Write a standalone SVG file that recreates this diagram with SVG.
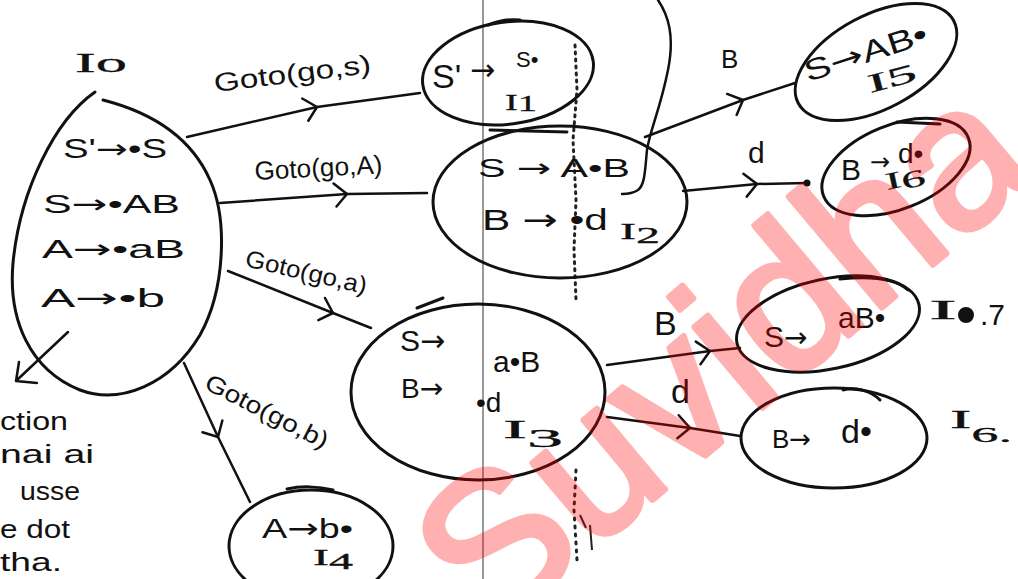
<svg xmlns="http://www.w3.org/2000/svg" width="1018" height="579" viewBox="0 0 1018 579">
<defs>
<style>
.n{fill:none;stroke:#111;stroke-width:3;stroke-linecap:round;stroke-linejoin:round}
.c{fill:none;stroke:#111;stroke-width:2.5;stroke-linecap:round;stroke-linejoin:round}
.t{font-family:"Liberation Sans",Arial,sans-serif;fill:#111}
.a{font-family:"DejaVu Sans",sans-serif}
.s{font-family:"Liberation Serif","Times New Roman",serif;fill:#111;stroke:#111;stroke-width:0.3}
.wm{font-family:"Liberation Sans",Arial,sans-serif;fill:#ff0000;stroke:#ff0000;stroke-width:6;stroke-linejoin:round}
</style>
<marker id="chev" markerUnits="userSpaceOnUse" viewBox="-16 -16 32 32" markerWidth="32" markerHeight="32" refX="0" refY="0" orient="auto">
<path d="M-13,-11 L0,0 L-11,12" fill="none" stroke="#111" stroke-width="2.5" stroke-linecap="round" stroke-linejoin="round"/>
</marker>
</defs>
<rect width="1018" height="579" fill="#fff"/>
<line x1="483" y1="0" x2="483" y2="579" stroke="#333" stroke-width="1"/>
<path d="M575,45 L577,90 L573,140 L576,200 L574,250 L576,300" fill="none" stroke="#222" stroke-width="3" stroke-dasharray="2 5" stroke-linecap="round"/>
<path d="M576,470 L574,510 L577,560" fill="none" stroke="#222" stroke-width="3" stroke-dasharray="2 6" stroke-linecap="round"/>
<path d="M580,515 L586,528 M590,525 L592,550" fill="none" stroke="#222" stroke-width="2"/>
<path d="M658,0 C668,15 675,35 668,70 C660,110 650,130 647,150 C645,170 645,185 638,190 C632,194 627,194 622,194" class="c"/>

<g id="connectors">
<path class="c" d="M187,137 L317,107 L420,93" marker-mid="url(#chev)"/>
<path class="c" d="M220,203 L347,194 L427,193" marker-mid="url(#chev)"/>
<path class="c" d="M228,271 L333,313 L371,328" marker-mid="url(#chev)"/>
<path class="c" d="M184,363 L218,437 L250,502" marker-mid="url(#chev)"/>
<path class="c" d="M645,137 L743,100 L795,83" marker-mid="url(#chev)"/>
<path class="c" d="M683,191 L757,184 L807,183" marker-mid="url(#chev)"/>
<circle cx="807" cy="183" r="3.5" fill="#111"/>
<path class="c" d="M607,365 L710,351 L740,348" marker-mid="url(#chev)"/>
<path class="c" d="M607,417 L690,428 L740,436" marker-mid="url(#chev)"/>
<path class="c" d="M68,332 L17,380 M19,362 L16,381 L37,383"/>
<text class="t" font-size="26" x="215" y="92" textLength="158" lengthAdjust="spacingAndGlyphs" transform="rotate(-7 215 92)">Goto(go,s)</text>
<text class="t" font-size="26" x="255" y="180" textLength="128" lengthAdjust="spacingAndGlyphs" transform="rotate(-3 255 180)">Goto(go,A)</text>
<text class="t" font-size="24" x="244" y="266" textLength="124" lengthAdjust="spacingAndGlyphs" transform="rotate(13 244 266)">Goto(go,a)</text>
<text class="t" font-size="24" x="203" y="388" textLength="135" lengthAdjust="spacingAndGlyphs" transform="rotate(27 203 388)">Goto(go,b)</text>
<text class="t" font-size="26" x="721" y="68">B</text>
<text class="t" font-size="30" x="748" y="163">d</text>
<text class="t" font-size="34" x="654" y="335">B</text>
<text class="t" font-size="34" x="671" y="403">d</text>
</g>

<g id="I0">
<path class="n" d="M95,92 C55,120 20,190 13,263 C8,320 30,370 80,390 C120,405 170,385 200,335 C225,290 228,220 210,180 C190,135 150,112 103,100"/>
<text class="s" x="75" y="72" font-size="28" textLength="52" lengthAdjust="spacingAndGlyphs">Io</text>
<text class="t" font-size="27" x="63" y="158" textLength="104" lengthAdjust="spacingAndGlyphs">S'<tspan class="a">→</tspan>•S</text>
<text class="t" font-size="26" x="43" y="213" textLength="137" lengthAdjust="spacingAndGlyphs">S<tspan class="a">→</tspan>•AB</text>
<text class="t" font-size="26" x="42" y="258" textLength="143" lengthAdjust="spacingAndGlyphs">A<tspan class="a">→</tspan>•aB</text>
<text class="t" font-size="26" x="41" y="307" textLength="124" lengthAdjust="spacingAndGlyphs">A<tspan class="a">→</tspan>•b</text>
</g>

<g id="I1">
<ellipse class="n" cx="508" cy="73" rx="86" ry="51" transform="rotate(-8 508 73)"/>
<path class="n" d="M488,25 C500,20 510,19 520,20"/>
<text class="t" font-size="34" x="432" y="88">S'<tspan class="a" x="470" y="80" font-size="30">→</tspan><tspan x="516" y="67" font-size="22">S•</tspan></text>
<text class="s" font-size="24" x="505" y="110" textLength="32" lengthAdjust="spacingAndGlyphs">I<tspan dy="1">1</tspan></text>
</g>

<g id="I2">
<ellipse class="n" cx="560" cy="202" rx="127" ry="76"/>
<path class="n" d="M490,130 L567,132"/>
<text class="t" font-size="26" x="478" y="177" textLength="152" lengthAdjust="spacingAndGlyphs">S <tspan class="a">→</tspan> A•B</text>
<text class="t" font-size="30" x="482" y="230" textLength="126" lengthAdjust="spacingAndGlyphs">B <tspan class="a">→</tspan> •d</text>
<text class="s" font-size="24" x="620" y="239" textLength="40" lengthAdjust="spacingAndGlyphs">I<tspan dy="4">2</tspan></text>
</g>

<g id="I3">
<ellipse class="n" cx="478" cy="392" rx="127" ry="88"/>
<path class="n" d="M417,308 L443,298"/>
<text class="t" font-size="30" x="400" y="351">S<tspan class="a">→</tspan><tspan x="493" y="372">a•B</tspan></text>
<text class="t" font-size="28" x="401" y="398">B<tspan class="a">→</tspan><tspan x="476" y="412">•d</tspan></text>
<text class="s" font-size="26" x="503" y="438" textLength="60" lengthAdjust="spacingAndGlyphs">I<tspan dy="9">3</tspan></text>
</g>

<g id="I4">
<ellipse class="n" cx="311" cy="546" rx="82" ry="56"/>
<path class="n" d="M287,489 C300,486 318,486 333,490"/>
<text class="t" font-size="28" x="262" y="538" textLength="91" lengthAdjust="spacingAndGlyphs">A<tspan class="a">→</tspan>b•</text>
<text class="s" font-size="24" x="313" y="565" textLength="40" lengthAdjust="spacingAndGlyphs">I<tspan dy="4">4</tspan></text>
</g>

<g id="I5">
<ellipse class="n" cx="876" cy="62" rx="88" ry="47" transform="rotate(-28 876 62)"/>
<text class="t" font-size="30" x="808" y="82" textLength="128" lengthAdjust="spacingAndGlyphs" transform="rotate(-18 808 82)">S<tspan class="a">→</tspan>AB•</text>
<text class="s" font-size="26" x="870" y="93" textLength="50" lengthAdjust="spacingAndGlyphs" transform="rotate(-15 870 93)">I5</text>
</g>

<g id="I6">
<ellipse class="n" cx="896" cy="167" rx="78" ry="42" transform="rotate(-22 896 167)"/>
<path class="n" d="M897,122 L940,124"/>
<text class="t" font-size="30" x="841" y="180">B<tspan class="a" x="870" y="170" font-size="24">→</tspan><tspan x="898" y="163" font-size="28">d•</tspan></text>
<text class="s" font-size="24" x="887" y="190" textLength="40" lengthAdjust="spacingAndGlyphs" transform="rotate(-12 887 190)">I<tspan dy="3">6</tspan></text>
</g>

<g id="I7">
<ellipse class="n" cx="828" cy="324" rx="93" ry="45" transform="rotate(-12 828 324)"/>
<path class="n" d="M840,279 C870,276 895,278 908,290"/>
<text class="t" font-size="30" x="764" y="347">S<tspan class="a" font-size="28">→</tspan><tspan x="838" y="328">aB•</tspan></text>
<text class="s" font-size="28" x="929" y="319" textLength="28" lengthAdjust="spacingAndGlyphs">I</text>
<circle cx="966" cy="315" r="7" fill="#111" stroke="#111" stroke-width="2"/>
<text class="t" font-size="30" x="980" y="325">.7</text>
</g>

<g id="I6b">
<ellipse class="n" cx="834" cy="438" rx="93" ry="50"/>
<path class="n" d="M843,390 C855,387 870,390 880,400"/>
<text class="t" font-size="26" x="772" y="448">B<tspan class="a">→</tspan><tspan x="841" y="443" font-size="34">d•</tspan></text>
<text class="s" font-size="26" x="950" y="428" textLength="62" lengthAdjust="spacingAndGlyphs">I<tspan dy="14" font-size="22">6.</tspan></text>
</g>

<g id="note">
<text class="t" font-size="26" x="0" y="430" textLength="68" lengthAdjust="spacingAndGlyphs">ction</text>
<text class="t" font-size="26" x="0" y="463" textLength="94" lengthAdjust="spacingAndGlyphs">nai ai</text>
<text class="t" font-size="26" x="20" y="500" textLength="60" lengthAdjust="spacingAndGlyphs">usse</text>
<text class="t" font-size="26" x="0" y="538" textLength="70" lengthAdjust="spacingAndGlyphs">e dot</text>
<text class="t" font-size="26" x="0" y="571" textLength="62" lengthAdjust="spacingAndGlyphs">tha.</text>
</g>

<g opacity="0.3">
<text class="wm" font-size="200" x="488" y="638" transform="rotate(-40 488 638)">Suvidha.</text>
</g>
</svg>
